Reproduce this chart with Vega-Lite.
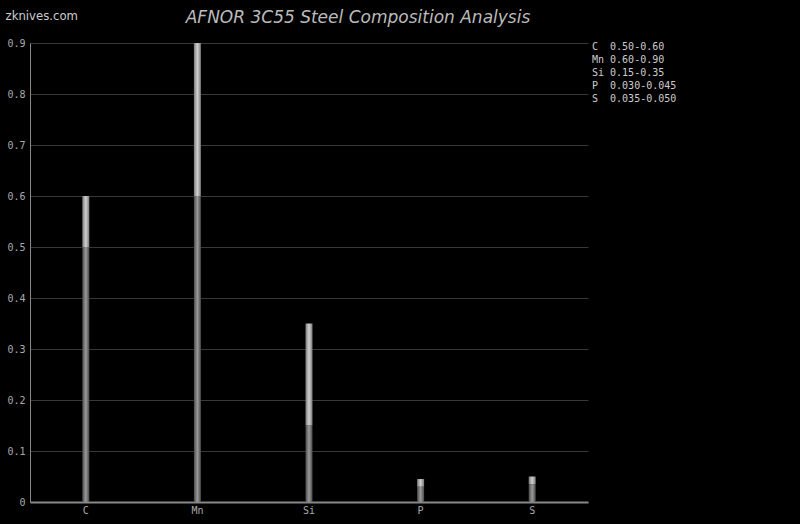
{
  "$schema": "https://vega.github.io/schema/vega-lite/v6.json",
  "width": 558,
  "height": 459,
  "autosize": {"type": "none"},
  "padding": {"left": 30, "top": 43, "right": 212, "bottom": 22},
  "background": "#000000",
  "title": {
    "text": "AFNOR 3C55 Steel Composition Analysis",
    "font": "DejaVu Sans",
    "fontSize": 17,
    "fontStyle": "italic",
    "fontWeight": "normal",
    "color": "#bbbbbb",
    "anchor": "middle",
    "dx": 49,
    "offset": -18
  },
  "data": {
    "values": [
      {"el": "C", "min": 0.50, "max": 0.60, "label": "C\u00a0\u00a00.50-0.60"},
      {"el": "Mn", "min": 0.60, "max": 0.90, "label": "Mn\u00a00.60-0.90"},
      {"el": "Si", "min": 0.15, "max": 0.35, "label": "Si\u00a00.15-0.35"},
      {"el": "P", "min": 0.030, "max": 0.045, "label": "P\u00a0\u00a00.030-0.045"},
      {"el": "S", "min": 0.035, "max": 0.050, "label": "S\u00a0\u00a00.035-0.050"}
    ]
  },
  "encoding": {
    "x": {
      "field": "el",
      "type": "nominal",
      "sort": ["C", "Mn", "Si", "P", "S"],
      "scale": {"paddingInner": 0, "paddingOuter": 0},
      "axis": {
        "title": null,
        "labelAngle": 0,
        "labelFont": "DejaVu Sans Mono",
        "labelFontSize": 10,
        "labelColor": "#aaaaaa",
        "labelPadding": 3,
        "ticks": false,
        "domainColor": "#888888",
        "domainWidth": 2,
        "grid": false
      }
    }
  },
  "layer": [
    {
      "mark": {
        "type": "bar",
        "size": 7,
        "fill": {
          "gradient": "linear", "x1": 0, "y1": 0, "x2": 1, "y2": 0,
          "stops": [
            {"offset": 0, "color": "#4a4a4a"},
            {"offset": 0.5, "color": "#9a9a9a"},
            {"offset": 1, "color": "#4a4a4a"}
          ]
        }
      },
      "encoding": {
        "y": {
          "field": "min",
          "type": "quantitative",
          "scale": {"domain": [0, 0.9], "nice": false},
          "axis": {
            "title": "zknives.com",
            "titleAngle": 0,
            "titleAlign": "left",
            "titleBaseline": "alphabetic",
            "titleX": -25,
            "titleY": -24,
            "titleFont": "DejaVu Sans Condensed",
            "titleFontSize": 13,
            "titleFontWeight": "normal",
            "titleColor": "#cccccc",
            "values": [0, 0.1, 0.2, 0.3, 0.4, 0.5, 0.6, 0.7, 0.8, 0.9],
            "format": "~g",
            "labelFont": "DejaVu Sans Mono",
            "labelFontSize": 10,
            "labelColor": "#aaaaaa",
            "labelPadding": 5,
            "ticks": false,
            "domainColor": "#888888",
            "domainWidth": 1,
            "grid": true,
            "gridColor": "#383838",
            "gridWidth": 1
          }
        }
      }
    },
    {
      "mark": {
        "type": "bar",
        "size": 7,
        "fill": {
          "gradient": "linear", "x1": 0, "y1": 0, "x2": 1, "y2": 0,
          "stops": [
            {"offset": 0, "color": "#7a7a7a"},
            {"offset": 0.5, "color": "#d0d0d0"},
            {"offset": 1, "color": "#7a7a7a"}
          ]
        }
      },
      "encoding": {
        "y": {"field": "min", "type": "quantitative"},
        "y2": {"field": "max"}
      }
    },
    {
      "mark": {"type": "point", "opacity": 0, "size": 0},
      "encoding": {
        "y": {"field": "min", "type": "quantitative"},
        "shape": {
          "field": "label",
          "type": "nominal",
          "scale": {
            "domain": ["C\u00a0\u00a00.50-0.60", "Mn\u00a00.60-0.90", "Si\u00a00.15-0.35", "P\u00a0\u00a00.030-0.045", "S\u00a0\u00a00.035-0.050"]
          },
          "legend": {
            "title": null,
            "orient": "none",
            "legendX": 552,
            "legendY": -1,
            "padding": 0,
            "symbolSize": 0,
            "symbolOpacity": 0,
            "symbolStrokeWidth": 0,
            "labelOffset": 0,
            "labelFont": "DejaVu Sans Mono",
            "labelFontSize": 10,
            "labelColor": "#cccccc",
            "rowPadding": 3
          }
        }
      }
    }
  ],
  "config": {
    "view": {"stroke": null}
  }
}
